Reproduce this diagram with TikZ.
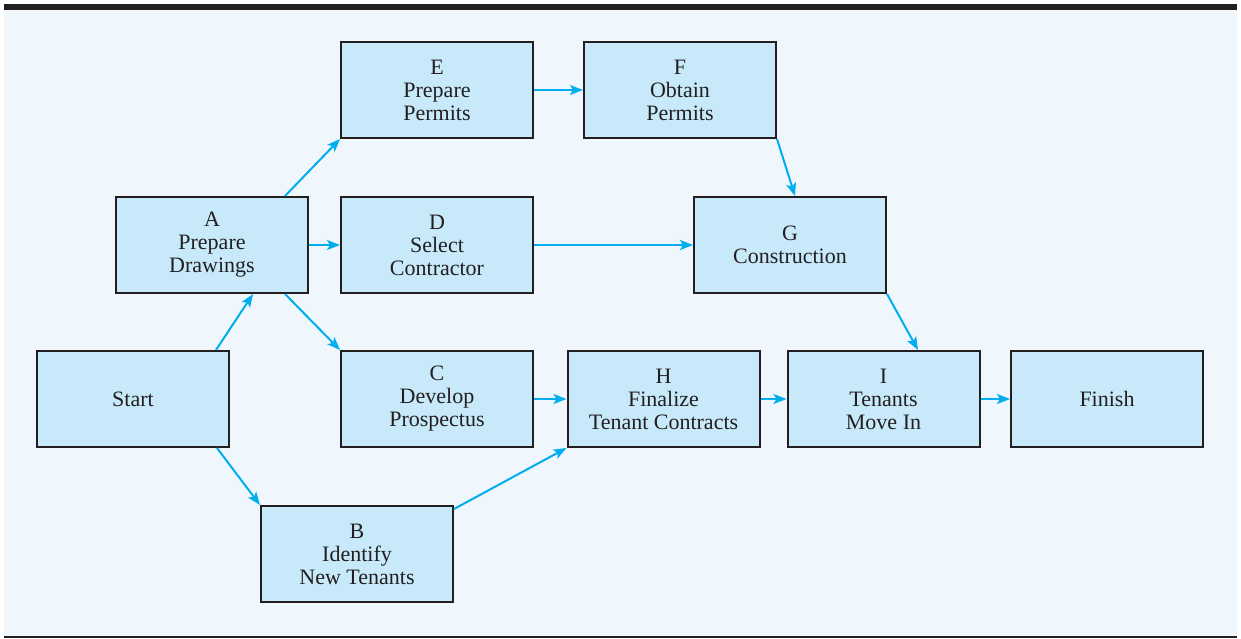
\documentclass[tikz,border=0pt]{standalone}
\usepackage{fontspec}
\setmainfont{Liberation Serif}
\usetikzlibrary{arrows.meta}
\definecolor{bgblue}{HTML}{EFF7FD}
\definecolor{boxblue}{HTML}{C7E9F9}
\definecolor{arrowcyan}{HTML}{00AEEF}
\definecolor{inkdark}{HTML}{231F20}
\tikzset{
  actbox/.style={draw=inkdark, line width=2pt, fill=boxblue, minimum width=192pt, minimum height=96pt, inner sep=0pt, align=center, text=inkdark, font=\fontsize{22}{23}\selectfont},
  link/.style={draw=arrowcyan, line width=2pt, -{Stealth[length=13pt,width=10pt,inset=3pt]}}
}
\begin{document}
\begin{tikzpicture}[x=1pt,y=-1pt]
\useasboundingbox (0,0) rectangle (1241,639);
\fill[bgblue] (4,10) rectangle (1237,636);
\fill[inkdark] (4,4) rectangle (1237,10);
\draw[inkdark, line width=2pt] (4,637) -- (1237,637);

\node[actbox] (Start) at (133,399) {Start};
\node[actbox] (A) at (212,245) {A\\Prepare\\Drawings};
\node[actbox] (E) at (437,90) {E\\Prepare\\Permits};
\node[actbox] (F) at (680,90) {F\\Obtain\\Permits};
\node[actbox] (D) at (437,245) {D\\Select\\Contractor};
\node[actbox] (G) at (790,245) {G\\Construction};
\node[actbox] (C) at (437,399) {C\\Develop\\Prospectus};
\node[actbox] (H) at (663.5,399) {H\\Finalize\\Tenant Contracts};
\node[actbox] (I) at (883.5,399) {I\\Tenants\\Move In};
\node[actbox] (Finish) at (1107,399) {Finish};
\node[actbox] (B) at (357,554) {B\\Identify\\New Tenants};

\draw[link] ([xshift=83pt]Start.north) -- ([xshift=41pt]A.south);
\draw[link] ([xshift=84pt]Start.south) -- (B.north west);
\draw[link] ([xshift=73pt]A.north) -- (E.south west);
\draw[link] (A.east) -- (D.west);
\draw[link] ([xshift=73pt]A.south) -- (C.north west);
\draw[link] (E.east) -- (F.west);
\draw[link] (F.south east) -- ([xshift=5pt]G.north);
\draw[link] (D.east) -- (G.west);
\draw[link] (G.south east) -- ([xshift=34.5pt]I.north);
\draw[link] (C.east) -- (H.west);
\draw[link] ([yshift=-4pt]B.north east) -- (H.south west);
\draw[link] (H.east) -- (I.west);
\draw[link] (I.east) -- (Finish.west);
\end{tikzpicture}
\end{document}
